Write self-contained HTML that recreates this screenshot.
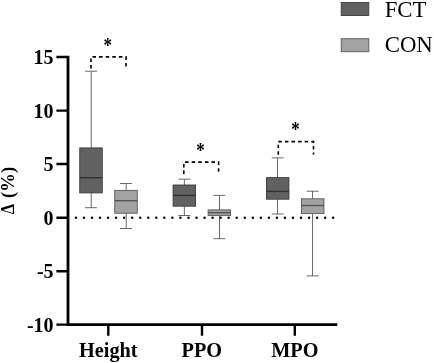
<!DOCTYPE html>
<html>
<head>
<meta charset="utf-8">
<title>Box plot</title>
<style>
html,body{margin:0;padding:0;background:#fff;}
body{width:434px;height:363px;overflow:hidden;}
svg{display:block;will-change:transform;}
text{font-family:"Liberation Serif","DejaVu Serif",serif;fill:#000;}
.b{font-weight:bold;font-size:20px;}
.l{font-size:22.8px;}
.ax{stroke:#000;stroke-width:2.8;fill:none;}
.tk{stroke:#000;stroke-width:2.4;fill:none;}
.w{stroke:#585858;stroke-width:0.9;fill:none;}
.f{fill:#616161;stroke:#3c3c3c;stroke-width:0.9;}
.c{fill:#a2a2a3;stroke:#585858;stroke-width:0.9;}
.mf{stroke:#333;stroke-width:1.4;}
.mc{stroke:#555;stroke-width:1.4;}
.br{stroke:#000;stroke-width:1.6;fill:none;stroke-dasharray:3.5 3.1;}
</style>
</head>
<body>
<svg width="434" height="363" viewBox="0 0 434 363">
<rect width="434" height="363" fill="#fff"/>

<!-- legend -->
<rect class="f" x="341.2" y="2.5" width="27.6" height="13"/>
<rect class="c" x="341.2" y="38.7" width="27.6" height="13"/>
<text class="l" x="384.7" y="16.7">FCT</text>
<text class="l" x="384.7" y="52.1">CON</text>

<!-- zero dotted line -->
<line x1="75.9" y1="217.65" x2="334" y2="217.65" stroke="#000" stroke-width="2.5" stroke-linecap="round" stroke-dasharray="0 8.04"/>

<!-- Height FCT -->
<path class="w" d="M91.25 71.2V147.9M85.05 71.2H96.95M91.25 192.9V207.7M85.05 207.7H96.95"/>
<rect class="f" x="79.75" y="147.9" width="22.5" height="45.0"/>
<line class="mf" x1="79.75" y1="177.7" x2="102.25" y2="177.7"/>
<!-- Height CON -->
<path class="w" d="M126.20 183.5V190.4M120.05 183.5H131.95M126.20 213.2V228.5M120.05 228.5H131.95"/>
<rect class="c" x="114.75" y="190.4" width="22.5" height="22.8"/>
<line class="mc" x1="114.75" y1="200.7" x2="137.25" y2="200.7"/>
<!-- PPO FCT -->
<path class="w" d="M184.35 179.2V185.0M178.40 179.2H190.30M184.35 206.2V215.5M178.40 215.5H190.30"/>
<rect class="f" x="173.10" y="185.0" width="22.5" height="21.2"/>
<line class="mf" x1="173.10" y1="195.4" x2="195.60" y2="195.4"/>
<!-- PPO CON -->
<path class="w" d="M219.50 195.4V209.9M213.40 195.4H225.30M219.50 215.6V238.7M213.40 238.7H225.30"/>
<rect class="c" x="208.10" y="209.9" width="22.5" height="5.7"/>
<line class="mc" x1="208.10" y1="212.7" x2="230.60" y2="212.7"/>
<!-- MPO FCT -->
<path class="w" d="M277.55 157.9V177.6M271.75 157.9H283.65M277.55 199.2V214.0M271.75 214.0H283.65"/>
<rect class="f" x="266.45" y="177.6" width="22.5" height="21.6"/>
<line class="mf" x1="266.45" y1="191.4" x2="288.95" y2="191.4"/>
<!-- MPO CON -->
<path class="w" d="M312.55 191.2V198.8M306.75 191.2H318.65M312.55 213.6V275.9M306.75 275.9H318.65"/>
<rect class="c" x="301.45" y="198.8" width="22.5" height="14.8"/>
<line class="mc" x1="301.45" y1="205.5" x2="323.95" y2="205.5"/>

<!-- significance brackets -->
<path class="br" d="M91 68.6V56.9H126V66.5"/>
<path class="br" d="M183.8 174V162.1H218.6V172.2"/>
<path class="br" d="M278.3 154.8V141.6H313.5V154.4"/>
<text class="b" transform="translate(107.65,51.9) scale(0.85,1.02)" text-anchor="middle">*</text>
<text class="b" transform="translate(200.5,157.3) scale(0.85,1.02)" text-anchor="middle">*</text>
<text class="b" transform="translate(295.4,136.4) scale(0.85,1.02)" text-anchor="middle">*</text>

<!-- axes -->
<path class="ax" d="M68 55.75V326"/>
<path class="ax" d="M66.6 324.6H337.2"/>
<path class="tk" d="M56.4 57.05H67M56.4 110.65H67M56.4 164H67M56.4 217.7H67M56.4 271.2H67M56.4 324.6H67"/>
<path class="tk" d="M108.3 324.6V335.7M202 324.6V335.7M294.8 324.6V335.7"/>

<!-- y tick labels -->
<text class="b" x="53.6" y="63.75" text-anchor="end">15</text>
<text class="b" x="53.6" y="117.7" text-anchor="end">10</text>
<text class="b" x="53.6" y="170.85" text-anchor="end">5</text>
<text class="b" x="53.6" y="224.85" text-anchor="end">0</text>
<text class="b" x="53.6" y="277.9" text-anchor="end">-5</text>
<text class="b" x="53.6" y="331.5" text-anchor="end">-10</text>

<!-- x labels -->
<text class="b" style="font-size:20.3px" x="108.3" y="357" text-anchor="middle">Height</text>
<text class="b" style="font-size:20.3px" x="201.8" y="357" text-anchor="middle">PPO</text>
<text class="b" style="font-size:20.3px" x="294.8" y="357" text-anchor="middle">MPO</text>

<!-- y axis title -->
<text class="b" style="font-size:18.4px" transform="translate(13.9,214.3) rotate(-90) scale(0.9,1)">Δ</text>
<text class="b" style="font-size:18.6px" transform="translate(13.9,197.9) rotate(-90)">(%)</text>
</svg>
</body>
</html>
